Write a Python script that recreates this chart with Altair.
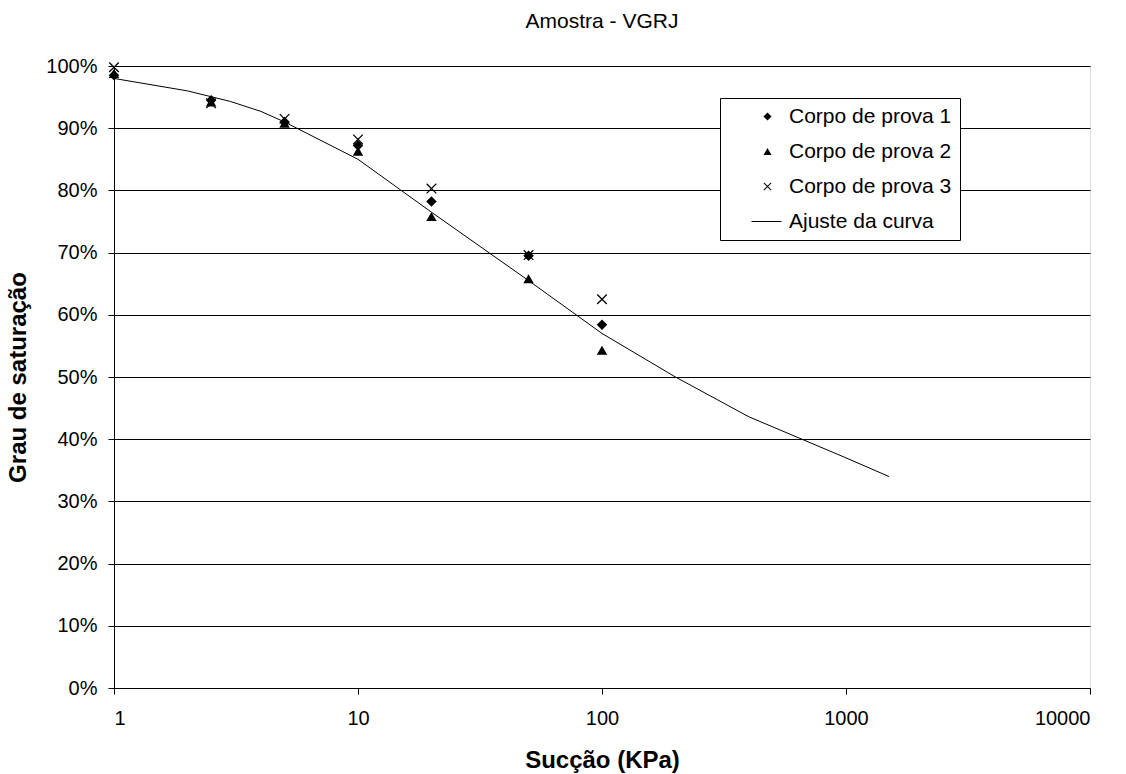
import altair as alt
import pandas as pd

# Suction (kPa) at which each specimen was measured
succao = [1, 2.5, 5, 10, 20, 50, 100]

# Degree of saturation (fraction) for the three specimens
corpo_1 = [0.985, 0.945, 0.910, 0.872, 0.782, 0.695, 0.584]
corpo_2 = [0.988, 0.942, 0.908, 0.863, 0.758, 0.658, 0.543]
corpo_3 = [0.998, 0.940, 0.915, 0.882, 0.803, 0.696, 0.625]

# Fitted retention curve
ajuste_x = [1, 2, 3, 4, 5, 10, 20, 50, 100, 200, 400, 1000, 1500]
ajuste_y = [0.980, 0.960, 0.943, 0.927, 0.910, 0.850, 0.765, 0.655, 0.570, 0.500, 0.436, 0.370, 0.340]

series = ["Corpo de prova 1", "Corpo de prova 2", "Corpo de prova 3", "Ajuste da curva"]

# Filled symbol outlines: a thin "x" made of two slim bars, and a slim bar for the curve key
a = 0.17
cruz = (
    f"M{-1 + a},-1L1,{1 - a}L{1 - a},1L-1,{-1 + a}Z"
    f"M1,{-1 + a}L{-1 + a},1L-1,{1 - a}L{1 - a},-1Z"
)
traco = "M-4,-0.13L3.5,-0.13L3.5,0.13L-4,0.13Z"
shapes = ["diamond", "triangle-up", cruz, traco]

FONT = "Liberation Sans"

pontos = pd.DataFrame(
    [
        {"succao": s, "grau": v, "serie": nome}
        for nome, valores in zip(series[:3], [corpo_1, corpo_2, corpo_3])
        for s, v in zip(succao, valores)
    ]
)
curva = pd.DataFrame({"succao": ajuste_x, "grau": ajuste_y})

x_enc = alt.X(
    "succao:Q",
    scale=alt.Scale(type="log", domain=[1, 10000]),
    axis=alt.Axis(
        title="Sucção (KPa)",
        values=[1, 10, 100, 1000, 10000],
        format="d",
        grid=False,
        tickSize=6,
        tickColor="black",
        domainColor="black",
        labelPadding=14,
        labelFontSize=20,
        labelFont=FONT,
        labelColor="black",
        titleFont=FONT,
        titleFontSize=24,
        titleFontWeight="bold",
        titleColor="black",
        titleY=72,
        titleBaseline="middle",
    ),
)
y_enc = alt.Y(
    "grau:Q",
    scale=alt.Scale(domain=[0, 1]),
    axis=alt.Axis(
        title="Grau de saturação",
        values=[i / 10 for i in range(11)],
        format=".0%",
        grid=True,
        gridColor="black",
        gridOpacity=1,
        gridWidth=1,
        tickSize=6,
        tickColor="black",
        domainColor="black",
        labelPadding=11,
        labelFontSize=20,
        labelFont=FONT,
        labelColor="black",
        titleFont=FONT,
        titleFontSize=24,
        titleFontWeight="bold",
        titleColor="black",
        titleX=-96,
        titleY=311,
        titleAngle=270,
        titleBaseline="middle",
    ),
)

linha = alt.Chart(curva).mark_line(color="black", strokeWidth=1).encode(x=x_enc, y=y_enc)

marcadores = (
    alt.Chart(pontos)
    .mark_point(filled=True, color="black", opacity=1, size=110)
    .encode(
        x=x_enc,
        y=y_enc,
        shape=alt.Shape(
            "serie:N",
            scale=alt.Scale(domain=series, range=shapes),
            legend=alt.Legend(
                title=None,
                orient="none",
                legendX=606,
                legendY=32,
                labelFont=FONT,
                labelFontSize=21,
                labelColor="black",
                labelLimit=400,
                labelExpr="datum.label + '\u00a0\u00a0\u00a0\u00a0'",
                symbolSize=64,
                symbolFillColor="black",
                symbolStrokeWidth=0,
                symbolOffset=29,
                labelOffset=11,
                rowPadding=13,
                padding=8,
                strokeColor="black",
                fillColor="white",
            ),
        ),
    )
)

chart = (
    alt.layer(linha, marcadores)
    .properties(
        width=976,
        height=622,
        padding={"left": 114, "top": 66, "right": 36, "bottom": 86},
        autosize=alt.AutoSizeParams(type="none"),
        title=alt.TitleParams(
            "Amostra - VGRJ",
            font=FONT,
            fontSize=21,
            fontWeight="normal",
            color="black",
            anchor="middle",
            offset=7,
            baseline="alphabetic",
        ),
    )
    .configure_view(stroke="#808080", strokeWidth=1)
    .configure(background="white")
)

chart.save("out.html", embed_options={"renderer": "svg", "actions": False})
